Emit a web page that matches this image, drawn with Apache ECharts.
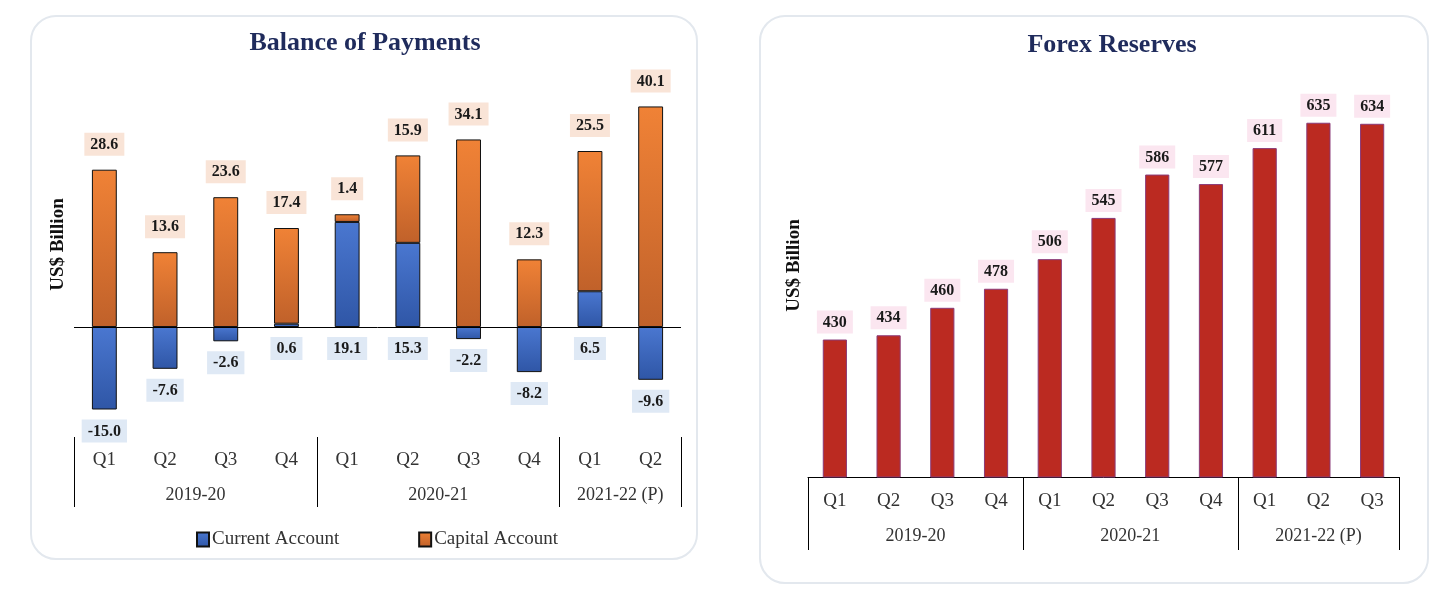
<!DOCTYPE html>
<html>
<head>
<meta charset="utf-8">
<script src="https://cdn.jsdelivr.net/npm/echarts@6/dist/echarts.min.js"></script>
<style>
  html, body { margin: 0; padding: 0; background: #fff; }
  .panel { position: absolute; border: 2px solid #e3e8ee; border-radius: 26px; background: #fff; box-sizing: border-box; }
  #chart { position: absolute; left: 0; top: 0; width: 1454px; height: 598px; }
</style>
</head>
<body>
<div class="panel" style="left:30px;top:15px;width:668px;height:545px;"></div>
<div class="panel" style="left:759px;top:15px;width:670px;height:569px;"></div>
<div id="chart"></div>
<script>
  // Balance of Payments (US$ billion)
  const bopQuarters = ['Q1', 'Q2', 'Q3', 'Q4', 'Q1', 'Q2', 'Q3', 'Q4', 'Q1', 'Q2'];
  const currentAccount = [-15.0, -7.6, -2.6, 0.6, 19.1, 15.3, -2.2, -8.2, 6.5, -9.6];
  const capitalAccount = [28.6, 13.6, 23.6, 17.4, 1.4, 15.9, 34.1, 12.3, 25.5, 40.1];
  const bopYears = ['2019-20', '2020-21', '2021-22 (P)'];
  const bopYearSizes = [4, 4, 2];

  // Forex reserves (US$ billion)
  const fxQuarters = ['Q1', 'Q2', 'Q3', 'Q4', 'Q1', 'Q2', 'Q3', 'Q4', 'Q1', 'Q2', 'Q3'];
  const forexReserves = [430, 434, 460, 478, 506, 545, 586, 577, 611, 635, 634];
  const fxYears = ['2019-20', '2020-21', '2021-22 (P)'];
  const fxYearSizes = [4, 4, 3];

  const SERIF = '"Liberation Serif", "DejaVu Serif", serif';

  function groupTicks(sizes) {
    const edges = [0];
    const mids = [];
    sizes.forEach(s => {
      const start = edges[edges.length - 1];
      mids.push(start + s / 2);
      edges.push(start + s);
    });
    return { edges, mids };
  }

  function groupAxis(gridIndex, names, sizes, showLine, tickLen, labelMargin) {
    const g = groupTicks(sizes);
    return {
      type: 'value',
      gridIndex: gridIndex,
      position: 'bottom',
      min: 0,
      max: g.edges[g.edges.length - 1],
      splitLine: { show: false },
      axisLine: { show: showLine, lineStyle: { color: '#000', width: 1 } },
      axisTick: {
        show: true,
        customValues: g.edges,
        inside: false,
        length: tickLen,
        lineStyle: { color: '#000', width: 1 }
      },
      axisLabel: {
        customValues: g.mids,
        margin: labelMargin,
        fontFamily: SERIF,
        fontSize: 18,
        color: '#333',
        formatter: v => names[g.mids.indexOf(v)] || ''
      }
    };
  }

  function quarterAxis(gridIndex, data, margin) {
    return {
      type: 'category',
      gridIndex: gridIndex,
      position: 'bottom',
      data: data,
      axisLine: { show: false },
      axisTick: { show: false },
      axisLabel: { margin: margin, fontFamily: SERIF, fontSize: 19, color: '#333' }
    };
  }

  function yAxisCfg(gridIndex, min, max, gap) {
    return {
      type: 'value',
      gridIndex: gridIndex,
      min: min,
      max: max,
      axisLine: { show: false },
      axisTick: { show: false },
      axisLabel: { show: false },
      splitLine: { show: false },
      name: 'US$ Billion',
      nameLocation: 'middle',
      nameRotate: 90,
      nameGap: gap,
      nameTextStyle: { fontFamily: SERIF, fontSize: 19, fontWeight: 'bold', color: '#111' }
    };
  }

  const valueLabel = {
    show: true,
    fontFamily: SERIF,
    fontSize: 16,
    fontWeight: 'bold',
    color: '#1a1a1a',
    padding: [4, 6, 3, 6]
  };

  const option = {
    animation: false,
    title: [
      {
        text: 'Balance of Payments',
        left: 360, top: 25, textAlign: 'center',
        textStyle: { fontFamily: SERIF, fontSize: 26, fontWeight: 'bold', color: '#1f2b5c' }
      },
      {
        text: 'Forex Reserves',
        left: 1107, top: 27, textAlign: 'center',
        textStyle: { fontFamily: SERIF, fontSize: 26, fontWeight: 'bold', color: '#1f2b5c' }
      }
    ],
    legend: {
      left: 191, top: 525,
      itemWidth: 12, itemHeight: 14, itemGap: 79,
      icon: 'rect',
      textStyle: { fontFamily: SERIF, fontSize: 19, color: '#333', padding: [0, 0, 0, -2] },
      data: ['Current Account', 'Capital Account']
    },
    grid: [
      { left: 74, width: 607, top: 52, height: 385 },
      { left: 808, width: 591, top: 54, height: 423 }
    ],
    xAxis: [
      quarterAxis(0, bopQuarters, 14),
      groupAxis(0, bopYears, bopYearSizes, false, 70, 49),
      quarterAxis(1, fxQuarters, 15),
      groupAxis(1, fxYears, fxYearSizes, true, 73, 50)
    ],
    yAxis: [
      yAxisCfg(0, -20, 50, 6),
      yAxisCfg(1, 300, 700, 4)
    ],
    series: [
      {
        name: 'Current Account',
        type: 'bar',
        xAxisIndex: 0, yAxisIndex: 0,
        stack: 'bop',
        barWidth: '41%',
        data: currentAccount,
        itemStyle: {
          color: new echarts.graphic.LinearGradient(0, 0, 0, 1, [
            { offset: 0, color: '#4a77d0' },
            { offset: 1, color: '#2f56a6' }
          ]),
          borderColor: '#111', borderWidth: 1
        },
        label: Object.assign({}, valueLabel, {
          position: 'bottom', distance: 10,
          backgroundColor: '#dfe9f5',
          formatter: p => p.value.toFixed(1)
        }),
        markLine: {
          silent: true,
          symbol: 'none',
          label: { show: false },
          lineStyle: { color: '#000', width: 1, type: 'solid' },
          data: [{ yAxis: 0 }]
        }
      },
      {
        name: 'Capital Account',
        type: 'bar',
        xAxisIndex: 0, yAxisIndex: 0,
        stack: 'bop',
        barWidth: '41%',
        data: capitalAccount,
        itemStyle: {
          color: new echarts.graphic.LinearGradient(0, 0, 0, 1, [
            { offset: 0, color: '#f08236' },
            { offset: 1, color: '#c0612a' }
          ]),
          borderColor: '#111', borderWidth: 1
        },
        label: Object.assign({}, valueLabel, {
          position: 'top', distance: 14,
          backgroundColor: '#f9e4d7',
          formatter: p => p.value.toFixed(1)
        })
      },
      {
        name: 'Forex Reserves',
        type: 'bar',
        xAxisIndex: 2, yAxisIndex: 1,
        barWidth: '45%',
        data: forexReserves,
        itemStyle: { color: '#bb2a21', borderColor: '#8a3a78', borderWidth: 1 },
        label: Object.assign({}, valueLabel, {
          position: 'top', distance: 6,
          backgroundColor: '#fbe6f0'
        })
      }
    ]
  };

  const chart = echarts.init(document.getElementById('chart'));
  chart.setOption(option);
</script>
</body>
</html>
